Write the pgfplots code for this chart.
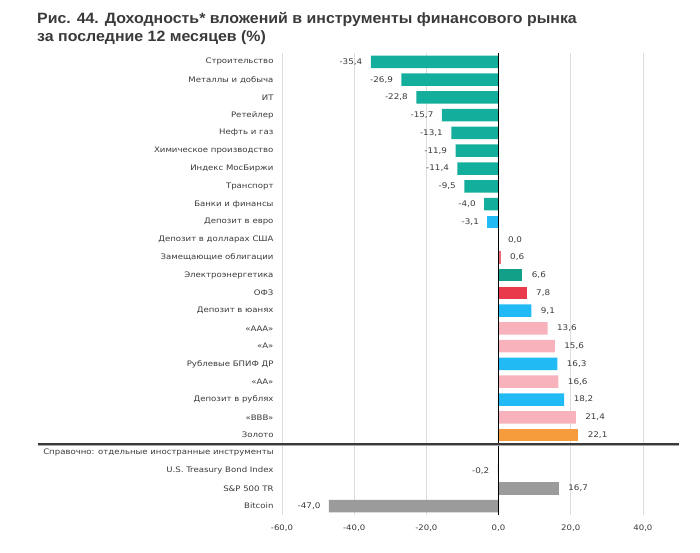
\documentclass[border=0pt]{standalone}
\usepackage{fontspec}
\usepackage{pgfplots}
\pgfplotsset{compat=1.18}
\setmainfont{Liberation Sans}
\newfontfamily\titlefont[FakeStretch=1.065]{Liberation Sans}
\newfontfamily\lblfont[FakeStretch=1.13]{DejaVu Sans}
\definecolor{cteal}{HTML}{14AE9D}
\definecolor{cteal2}{HTML}{13A088}
\definecolor{cblue}{HTML}{22BAF5}
\definecolor{cred}{HTML}{E83A4B}
\definecolor{cpink}{HTML}{F7B2BC}
\definecolor{corange}{HTML}{F79C3C}
\definecolor{cgray}{HTML}{9B9B9B}
\definecolor{ctxt}{HTML}{3A3A3A}
\definecolor{cgrid}{HTML}{DDDDDD}
\begin{document}
\begin{tikzpicture}
\path[use as bounding box] (0,0) rectangle (700bp,553bp);
\node[anchor=north west, align=left, font=\titlefont\bfseries\fontsize{15}{18}\selectfont, text=ctxt, inner sep=0pt] at (37bp,541bp)
  {Рис. 44. Доходность* вложений в инструменты финансового рынка\\за последние 12 месяцев (\%)};
\begin{axis}[
  at={(282bp,38bp)}, anchor=south west,
  scale only axis, width=397bp, height=462bp,
  xbar, bar width=12.5bp, bar shift=0pt,
  xmin=-60, xmax=50, ymin=-0.5, ymax=25.5, y dir=reverse,
  xtick={-60,-40,-20,0,20,40},
  ytick={0,...,25},
  yticklabels={Строительство,Металлы и добыча,ИТ,Ретейлер,Нефть и газ,Химическое производство,Индекс МосБиржи,Транспорт,Банки и финансы,Депозит в евро,Депозит в долларах США,Замещающие облигации,Электроэнергетика,ОФЗ,Депозит в юанях,«ААА»,«А»,Рублевые БПИФ ДР,«АА»,Депозит в рублях,«BBB»,Золото,Справочно: отдельные иностранные инструменты,U.S. Treasury Bond Index,S\&P 500 TR,Bitcoin},
  axis line style={draw=none},
  major tick length=0pt,
  xmajorgrids, major grid style={cgrid, line width=0.8pt},
  ymajorgrids=false,
  clip=false,
  /pgf/number format/.cd, use comma, fixed, fixed zerofill, precision=1, assume math mode=true,
  /pgfplots/.cd,
  ticklabel style={font=\lblfont\fontsize{7.6}{8}\selectfont, text=ctxt},
  yticklabel style={xshift=-5bp},
  xticklabel style={yshift=-6bp},
  every node near coord/.append style={font=\lblfont\fontsize{7.8}{8}\selectfont, text=ctxt},
  pos/.style={nodes near coords, every node near coord/.append style={anchor=west, xshift=6bp}},
  neg/.style={nodes near coords, every node near coord/.append style={anchor=east, xshift=-5bp}},
]
\addplot[fill=cteal, draw=none, neg] coordinates {(-35.4,0) (-26.9,1) (-22.8,2) (-15.7,3) (-13.1,4) (-11.9,5) (-11.4,6) (-9.5,7) (-4.0,8)};
\addplot[fill=cblue, draw=none, neg] coordinates {(-3.1,9)};
\addplot[fill=cblue, draw=none, pos] coordinates {(0.0,10) (9.1,14) (16.3,17) (18.2,19)};
\addplot[fill=cred!60!cpink, draw=none, pos] coordinates {(0.6,11)};
\addplot[fill=cteal2, draw=none, pos] coordinates {(6.6,12)};
\addplot[fill=cred, draw=none, pos] coordinates {(7.8,13)};
\addplot[fill=cpink, draw=none, pos] coordinates {(13.6,15) (15.6,16) (16.6,18) (21.4,20)};
\addplot[fill=corange, draw=none, pos] coordinates {(22.1,21)};
\addplot[fill=cgray, draw=none, neg] coordinates {(-0.2,23) (-47.0,25)};
\addplot[fill=cgray, draw=none, pos] coordinates {(16.7,24)};
\draw[black, line width=0.9pt] (axis cs:0,-0.5) -- (axis cs:0,25.5);
\draw[gray!70, line width=0.8pt] ([xshift=-244bp,yshift=-1.4bp]axis cs:-60,21.5) -- ([yshift=-1.4bp]axis cs:50,21.5);
\draw[ctxt, line width=1.3pt] ([xshift=-244bp]axis cs:-60,21.5) -- (axis cs:50,21.5);
\end{axis}
\end{tikzpicture}
\end{document}
